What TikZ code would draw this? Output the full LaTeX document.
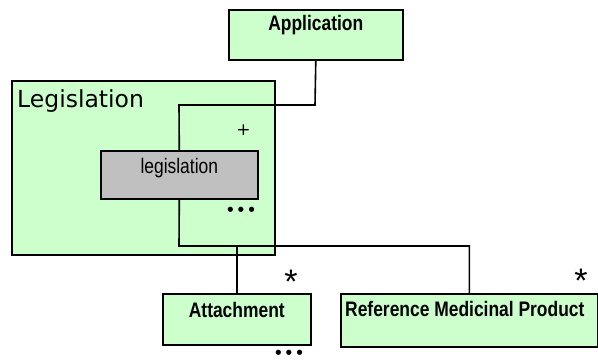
\documentclass[tikz,border=0pt]{standalone}
\usepackage{fontspec}
\setmainfont{Liberation Sans}
\newfontfamily\narrowfont[FakeStretch=0.83]{Liberation Sans}
\newfontfamily\widefont{DejaVu Sans}
\usetikzlibrary{positioning}
\definecolor{umlgreen}{HTML}{CCFFCC}
\definecolor{umlgray}{HTML}{C0C0C0}
\begin{document}
\begin{tikzpicture}
  [x=1pt,y=-1pt,
   clsbox/.style={draw=black,line width=1.6pt,fill=umlgreen,inner sep=0pt,anchor=north west},
   greybox/.style={clsbox,fill=umlgray},
   clsname/.style={anchor=base,inner sep=0pt,font=\narrowfont\bfseries\fontsize{21}{24}\selectfont},
   conn/.style={line width=1.6pt},
   mult/.style={anchor=base,inner sep=0pt,font=\fontsize{34}{34}\selectfont},
   clsdots/.style={anchor=base,inner sep=0pt,font=\widefont\fontsize{18}{20}\selectfont}]

  \useasboundingbox (0,0) rectangle (598,361);

  % Paquete Legislation
  \node[clsbox, minimum width=263, minimum height=174] (leg) at (11,80) {};
  \node[anchor=base west, inner sep=0pt, font=\widefont\fontsize{23.5}{26}\selectfont] (legtitle) at (17,107) {Legislation};
  \node[greybox, minimum width=157, minimum height=48] (legcls) at (100,150) {};
  \node[clsname, font=\narrowfont\fontsize{21}{24}\selectfont] (legname) at (legcls.north |- 0,174) {legislation};
  \node[inner sep=0pt, font=\widefont\fontsize{17}{20}\selectfont] (plus) at (243.5,130.5) {+};
  \node[clsdots] (legdots) at (241,216) {•••};

  % Clases exteriores
  \node[clsbox, minimum width=174, minimum height=50] (app) at (228,9) {};
  \node[clsname] (appname) at (app.north |- 0,31) {Application};
  \node[clsbox, minimum width=148, minimum height=51] (att) at (162,293) {};
  \node[clsname] (attname) at (att.north |- 0,317) {Attachment};
  \node[clsbox, minimum width=257, minimum height=53] (rmp) at (340,293) {};
  \node[clsname, anchor=base west] (rmpname) at (345,316) {Reference Medicinal Product};

  % Multiplicidades
  \node[mult] (attmult) at (291,293) {*};
  \node[mult] (rmpmult) at (581,292) {*};
  \node[clsdots] (attdots) at (289,359) {•••};

  % Conexiones
  \coordinate (appbend) at (315,105);
  \coordinate (legbend) at (179,105);
  \coordinate (bus) at (179,246);
  \draw[conn] (app.south) -- (appbend) -- (legbend) -- (legcls.north);
  \draw[conn] (legcls.south) -- (bus) -| (rmp.north);
  \draw[conn] (bus -| att.north) -- (att.north);

\end{tikzpicture}
\end{document}
